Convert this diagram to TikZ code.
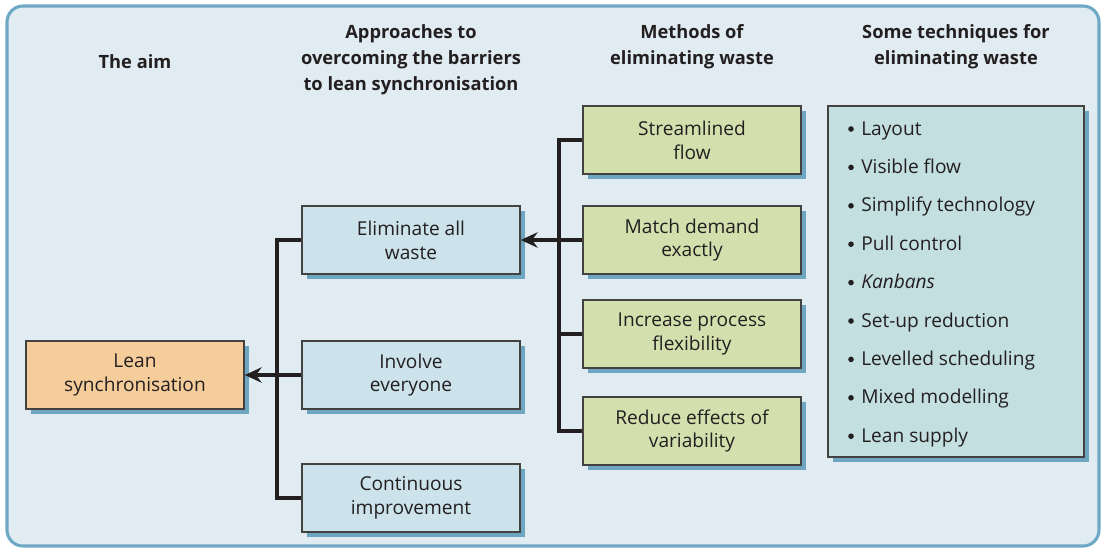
\documentclass[tikz,border=0pt]{standalone}
\usepackage{fontspec}
\setmainfont{Open Sans}
\usetikzlibrary{arrows.meta, positioning, shadows}

\definecolor{framefill}{HTML}{E0ECF2}
\definecolor{frameline}{HTML}{6FA8C4}
\definecolor{shadowblue}{HTML}{6EA5C0}
\definecolor{aimfill}{HTML}{F5CD9B}
\definecolor{wayfill}{HTML}{CCE3EC}
\definecolor{methodfill}{HTML}{D3E0AE}
\definecolor{techfill}{HTML}{C4DFE0}
\definecolor{inkgray}{HTML}{231F20}

\tikzset{
    box/.style={draw=inkgray!85, line width=1pt, minimum width=5.45cm, minimum height=1.7cm,
        align=center, text=inkgray, font=\fontsize{13.6}{17}\selectfont,
        drop shadow={shadow xshift=0.13cm, shadow yshift=-0.13cm, fill=shadowblue, opacity=1}},
    aimbox/.style={box, fill=aimfill},
    waybox/.style={box, fill=wayfill},
    methodbox/.style={box, fill=methodfill},
    heading/.style={align=center, text=inkgray, font=\fontsize{13}{18.5}\selectfont\bfseries},
    link/.style={line width=2.2pt, inkgray},
}

\begin{document}
\begin{tikzpicture}[x=0.025cm, y=-0.025cm, >={Stealth[length=0.42cm, width=0.38cm]}]
    \useasboundingbox (0,0) rectangle (1103,549);
    \draw[line width=2.2pt, frameline, fill=framefill, rounded corners=0.4cm] (7,6) rectangle (1099,546);

    % column headings
    \node[heading] (haim) at (135,62) {The aim};
    \node[heading] (hway) at (411,60) {Approaches to\\overcoming the barriers\\to lean synchronisation};
    \node[heading] (hmethod) at (692,47) {Methods of\\eliminating waste};
    \node[heading] (htech) at (956,47) {Some techniques for\\eliminating waste};

    % boxes
    \node[aimbox] (lean) at (135,375) {Lean\\synchronisation};
    \node[waybox] (elim) at (411,240) {Eliminate all\\waste};
    \node[waybox] (involve) at (411,375) {Involve\\everyone};
    \node[waybox] (improve) at (411,498) {Continuous\\improvement};
    \node[methodbox] (flow) at (692,140) {Streamlined\\flow};
    \node[methodbox] (match) at (692,240) {Match demand\\exactly};
    \node[methodbox] (flex) at (692,334) {Increase process\\flexibility};
    \node[methodbox] (vary) at (692,431) {Reduce effects of\\variability};

    % techniques
    \node[box, fill=techfill, minimum width=6.4cm, minimum height=8.775cm] (tech) at (956,281.5) {};
    \foreach \tname [count=\i] in {Layout, Visible flow, Simplify technology, Pull control, \textit{Kanbans},
        Set-up reduction, Levelled scheduling, Mixed modelling, Lean supply}
    {
        \fill[inkgray] (851,{129+(\i-1)*38.4}) circle (2.8);
        \node[anchor=base west, text=inkgray, font=\fontsize{13.6}{17}\selectfont, inner sep=0pt] (t\i)
            at (861,{135+(\i-1)*38.4}) {\tname};
    }

    % connectors
    \coordinate (leanjoin) at (277,375);
    \coordinate (methjoin) at (559,240);
    \draw[link] (elim.west) -| (leanjoin) |- (improve.west);
    \draw[link, ->] (involve.west) -- (lean.east);
    \draw[link] (flow.west) -| (methjoin) |- (vary.west);
    \draw[link] (flex.west) -- (flex.west -| methjoin);
    \draw[link, ->] (match.west) -- (elim.east);
\end{tikzpicture}
\end{document}
